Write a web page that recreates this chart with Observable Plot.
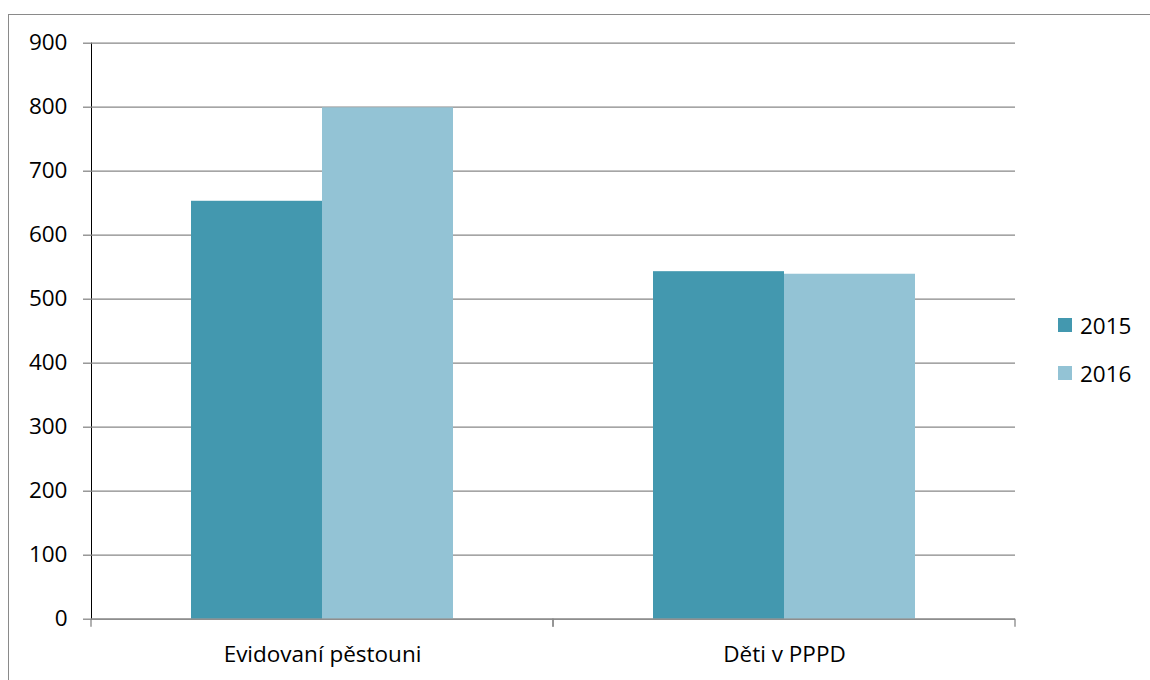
<!DOCTYPE html>
<html>
<head>
<meta charset="utf-8">
<script src="https://cdn.jsdelivr.net/npm/d3@7"></script>
<script src="https://cdn.jsdelivr.net/npm/@observablehq/plot@0.6"></script>
<style>
  html, body { margin: 0; padding: 0; background: #fff; }
  #wrap { position: relative; width: 1150px; height: 680px; overflow: hidden; font-family: "Open Sans", sans-serif; }
  #border { position: absolute; left: 8px; top: 14px; width: 1300px; height: 900px; border-left: 1.3px solid #8a8a8a; border-top: 1.3px solid #8a8a8a; }
  #chart { position: absolute; left: 0; top: 0; }
  #chart [aria-label^="y-axis"] line, #chart [aria-label^="y-axis"] path { stroke: #878787; stroke-opacity: 1; stroke-width: 1.3; }
  #chart text { fill: #000; }
  #legend { position: absolute; left: 1058px; top: 310px; font-size: 22.5px; color: #000; }
  #legend .item { display: flex; align-items: center; height: 30px; margin-bottom: 18px; }
  #legend .sw { width: 14px; height: 14px; margin-right: 8px; }
</style>
</head>
<body>
<div id="wrap">
  <div id="border"></div>
  <div id="chart"></div>
  <div id="legend"></div>
</div>
<script>
const categories = ["Evidovaní pěstouni", "Děti v PPPD"];
const years = ["2015", "2016"];
const values2015 = [653, 543];
const values2016 = [799, 539];
const yTicks = [0, 100, 200, 300, 400, 500, 600, 700, 800, 900];
const colors = ["#4398af", "#93c3d5"];

const series = [values2015, values2016];
const rows = categories.flatMap((c, i) => years.map((yr, j) => ({category: c, year: yr, value: series[j][i]})));

const gridColor = "#878787";

function boundaryTicks(index, scales, values, dimensions) {
  const g = d3.create("svg:g");
  const r = scales.x.range();
  const y0 = scales.y(0);
  for (const xx of [Math.min(...r), Math.max(...r)]) {
    g.append("line")
      .attr("x1", xx).attr("x2", xx)
      .attr("y1", y0).attr("y2", y0 + 8)
      .attr("stroke", gridColor).attr("stroke-width", 1.3);
  }
  return g.node();
}

const chart = Plot.plot({
  width: 1150,
  height: 680,
  marginLeft: 90,
  marginRight: 134.5,
  marginTop: 42.7,
  marginBottom: 61.3,
  style: {fontFamily: "'Open Sans', sans-serif", fontSize: "22.5px", color: "#000", background: "transparent", overflow: "visible"},
  facet: {data: rows, x: "category"},
  fx: {domain: categories, padding: 0, axis: "bottom", label: null, tickSize: 0, tickPadding: 27},
  x: {domain: years, paddingInner: 0, paddingOuter: 0.752, axis: null},
  y: {domain: [0, 900], ticks: yTicks, tickFormat: d => String(d), tickSize: 8, tickPadding: 16, label: null, line: true, grid: false},
  color: {domain: years, range: colors},
  marks: [
    Plot.ruleY(yTicks, {stroke: gridColor, strokeWidth: 1.3}),
    Plot.barY(rows, {x: "year", y: "value", fill: "year"}),
    Plot.ruleY([0], {stroke: gridColor, strokeWidth: 1.3}),
    boundaryTicks
  ]
});
document.getElementById("chart").appendChild(chart);

const legend = document.getElementById("legend");
years.forEach((yr, j) => {
  const item = document.createElement("div");
  item.className = "item";
  const sw = document.createElement("div");
  sw.className = "sw";
  sw.style.background = colors[j];
  const t = document.createElement("span");
  t.textContent = yr;
  item.appendChild(sw);
  item.appendChild(t);
  legend.appendChild(item);
});
</script>
</body>
</html>
